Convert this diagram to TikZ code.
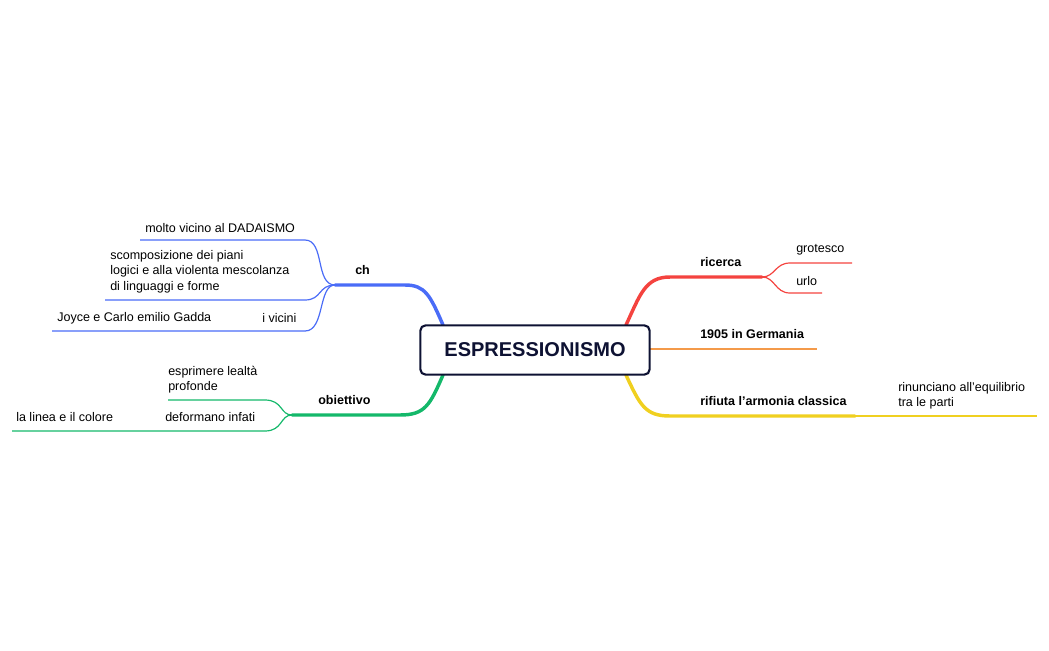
\documentclass[tikz,border=0pt]{standalone}
\usepackage{fontspec}
\setmainfont{Liberation Sans}
\begin{document}
\begin{tikzpicture}[x=0.75pt,y=-0.75pt,
  lbl/.style={anchor=west,inner sep=0pt,font=\fontsize{9.4}{11.5}\selectfont,align=left},
  blbl/.style={lbl,font=\fontsize{9.4}{11.5}\selectfont\bfseries},
  main/.style={line width=2.6pt,line cap=round},
  sub/.style={line width=0.9pt}]
\useasboundingbox (0,0) rectangle (1049,650);
\definecolor{cblue}{HTML}{4A6CF7}
\definecolor{cgreen}{HTML}{14B86A}
\definecolor{cred}{HTML}{F4433F}
\definecolor{corange}{HTML}{F49A4A}
\definecolor{cyellow}{HTML}{F0D020}
\definecolor{navy}{HTML}{0E1233}
% coordinates
\coordinate (bTL) at (443,325); \coordinate (bBL) at (443,375);
\coordinate (bTR) at (626,325); \coordinate (bBR) at (626,375);
\coordinate (chhub) at (335,285); \coordinate (obhub) at (292,415);
\coordinate (rihub) at (762,277);
\coordinate (e1) at (140,240); \coordinate (e2) at (105,300); \coordinate (e3) at (52,331);
\coordinate (g1) at (168,400); \coordinate (g2) at (12,431);
\coordinate (r1) at (852,263); \coordinate (r2) at (822,293);
\coordinate (oEnd) at (817,349); \coordinate (oStart) at (650,349);
\coordinate (yEnd) at (1037,416);
% blue
\draw[main,cblue] (bTL) .. controls (430,295) and (425,285) .. (405,285) -- (chhub);
\draw[sub,cblue] (chhub) .. controls (315,285) and (325,240) .. (305,240) -- (e1);
\draw[sub,cblue] (chhub) .. controls (318,285) and (322,300) .. (305,300) -- (e2);
\draw[sub,cblue] (chhub) .. controls (318,285) and (325,331) .. (305,331) -- (e3);
% green
\draw[main,cgreen] (bBL) .. controls (430,405) and (425,415) .. (400,415) -- (obhub);
\draw[sub,cgreen] (obhub) .. controls (280,415) and (283,400) .. (265,400) -- (g1);
\draw[sub,cgreen] (obhub) .. controls (280,415) and (283,431) .. (265,431) -- (g2);
% red
\draw[main,cred] (bTR) .. controls (640,295) and (645,277) .. (670,277) -- (rihub);
\draw[sub,cred] (rihub) .. controls (775,277) and (775,263) .. (790,263) -- (r1);
\draw[sub,cred] (rihub) .. controls (775,277) and (775,293) .. (790,293) -- (r2);
% orange
\draw[line width=1.8pt,corange] (oStart) -- (oEnd);
% yellow
\draw[main,cyellow] (bBR) .. controls (640,405) and (645,416) .. (670,416) -- (855,416);
\draw[line width=1.2pt,cyellow] (855,416) -- (yEnd);
% central
\node[draw=navy,line width=1.6pt,rounded corners=4pt,fill=white,minimum width=172pt,minimum height=37pt,
  font=\fontsize{15}{18}\selectfont\bfseries,text=navy] (root) at (535,350) {ESPRESSIONISMO};
% labels
\node[blbl] (ch) at (355,270) {ch};
\node[lbl] (t1) at (145,228) {molto vicino al DADAISMO};
\node[lbl,anchor=north west] (t2) at (110,250) {scomposizione dei piani\\logici e alla violenta mescolanza\\di linguaggi e forme};
\node[lbl] (t3) at (57,318) {Joyce e Carlo emilio Gadda};
\node[lbl] (t4) at (262,318) {i vicini};
\node[blbl] (ob) at (318,400) {obiettivo};
\node[lbl,anchor=north west] (t5) at (168,366) {esprimere lealtà\\profonde};
\node[lbl] (t6) at (165,417) {deformano infati};
\node[lbl] (t7) at (16,417) {la linea e il colore};
\node[blbl] (ri) at (700,262) {ricerca};
\node[lbl] (t8) at (796,250) {grotesco};
\node[lbl] (t9) at (796,281) {urlo};
\node[blbl] (ge) at (700,334) {1905 in Germania};
\node[blbl] (ar) at (700,401) {rifiuta l'armonia classica};
\node[lbl,anchor=north west] (t10) at (898,382) {rinunciano all'equilibrio\\tra le parti};
\end{tikzpicture}
\end{document}
